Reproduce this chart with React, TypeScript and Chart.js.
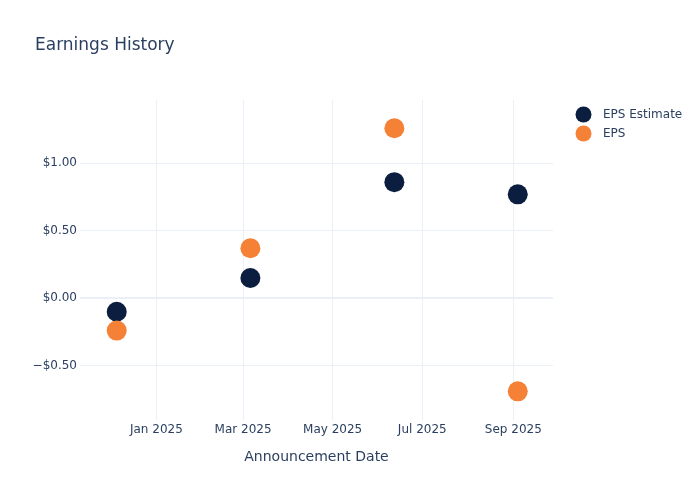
import React, { useEffect, useRef } from "react";
import { Chart, registerables } from "chart.js";

Chart.register(...registerables);

const announcementDates = ["2024-12-05", "2025-03-06", "2025-06-12", "2025-09-04"];
const epsEstimate = [-0.1, 0.15, 0.86, 0.77];
const epsActual = [-0.24, 0.37, 1.26, -0.69];
const xTickDates = ["2025-01-01", "2025-03-01", "2025-05-01", "2025-07-01", "2025-09-01"];
const xTickLabels = ["Jan 2025", "Mar 2025", "May 2025", "Jul 2025", "Sep 2025"];
const yTickValues = [-0.5, 0, 0.5, 1];
const xRange = ["2024-11-10", "2025-09-28"];
const yRange = [-0.9025, 1.469];

const TEXT = "#2a3f5f";
const GRID = "#EBF0F8";
const NAVY = "#0b1e3f";
const ORANGE = "#f58137";
const FONT = "'DejaVu Sans', Verdana, sans-serif";

const ts = (d: string) => {
  const [y, m, day] = d.split("-").map(Number);
  return Date.UTC(y, m - 1, day);
};

const fmtMoney = (v: number) =>
  (v < 0 ? "\u2212$" : "$") + Math.abs(v).toFixed(2);

const overlay = {
  id: "overlay",
  afterDraw(chart: any) {
    const { ctx, chartArea } = chart;
    ctx.save();
    ctx.fillStyle = TEXT;
    ctx.textBaseline = "middle";
    ctx.textAlign = "left";
    ctx.font = `17px ${FONT}`;
    ctx.fillText("Earnings History", 35, 46);
    ctx.font = `14px ${FONT}`;
    ctx.textAlign = "center";
    ctx.fillText("Announcement Date", (chartArea.left + chartArea.right) / 2, 457);
    const items = [
      { label: "EPS Estimate", color: NAVY },
      { label: "EPS", color: ORANGE },
    ];
    ctx.font = `12px ${FONT}`;
    ctx.textAlign = "left";
    items.forEach((it, i) => {
      const y = 114.5 + i * 19;
      ctx.beginPath();
      ctx.arc(583.5, y, 8, 0, Math.PI * 2);
      ctx.fillStyle = it.color;
      ctx.fill();
      ctx.fillStyle = TEXT;
      ctx.fillText(it.label, 603, y + 0.5);
    });
    ctx.restore();
  },
};

export default function App() {
  const ref = useRef<HTMLCanvasElement>(null);
  useEffect(() => {
    if (!ref.current) return;
    const xs = announcementDates.map(ts);
    const chart = new Chart(ref.current, {
      type: "scatter",
      data: {
        datasets: [
          {
            label: "EPS Estimate",
            data: xs.map((x, i) => ({ x, y: epsEstimate[i] })),
            backgroundColor: NAVY,
            borderColor: NAVY,
            borderWidth: 0,
            pointRadius: 10,
            order: 1,
          },
          {
            label: "EPS",
            data: xs.map((x, i) => ({ x, y: epsActual[i] })),
            backgroundColor: ORANGE,
            borderColor: ORANGE,
            borderWidth: 0,
            pointRadius: 10,
            order: 0,
          },
        ],
      },
      options: {
        animation: false,
        responsive: false,
        layout: { padding: { left: 0, right: 147, top: 100, bottom: 0 } },
        plugins: {
          legend: { display: false },
          title: { display: false },
          tooltip: { enabled: false },
        },
        scales: {
          x: {
            type: "linear",
            min: ts(xRange[0]),
            max: ts(xRange[1]),
            afterBuildTicks: (scale: any) => {
              scale.ticks = xTickDates.map((d) => ({ value: ts(d) }));
            },
            afterFit: (scale: any) => {
              scale.height = 80;
            },
            ticks: {
              autoSkip: false,
              maxRotation: 0,
              padding: 3,
              color: TEXT,
              font: { family: FONT, size: 12 },
              callback: (v: any) => {
                const idx = xTickDates.findIndex((d) => ts(d) === v);
                return idx >= 0 ? xTickLabels[idx] : "";
              },
            },
            grid: { color: GRID, lineWidth: 1, drawTicks: false },
            border: { display: false },
          },
          y: {
            min: yRange[0],
            max: yRange[1],
            afterBuildTicks: (scale: any) => {
              scale.ticks = yTickValues.map((v) => ({ value: v }));
            },
            afterFit: (scale: any) => {
              scale.width = 80;
            },
            ticks: {
              padding: 3,
              color: TEXT,
              font: { family: FONT, size: 12 },
              callback: (v: any) => fmtMoney(Number(v)),
            },
            grid: {
              color: GRID,
              lineWidth: (c: any) => (c.tick && c.tick.value === 0 ? 2 : 1),
              drawTicks: false,
            },
            border: { display: false },
          },
        },
      },
      plugins: [overlay],
    } as any);
    return () => chart.destroy();
  }, []);
  return (
    <div style={{ position: "absolute", left: 0, top: 0, width: 700, height: 500, background: "#fff" }}>
      <canvas ref={ref} width={700} height={500} />
    </div>
  );
}
